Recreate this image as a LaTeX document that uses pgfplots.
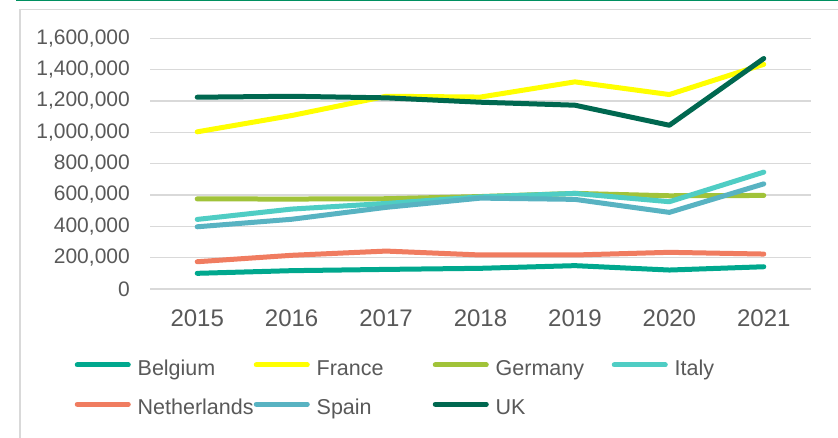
\documentclass[border=0pt]{standalone}
\usepackage{pgfplots}
\pgfplotsset{compat=1.18}
\usepackage{fontspec}
\setmainfont{Liberation Sans}
\definecolor{cBel}{RGB}{0,168,142}
\definecolor{cFra}{RGB}{255,255,0}
\definecolor{cGer}{RGB}{161,195,57}
\definecolor{cIta}{RGB}{79,205,196}
\definecolor{cNet}{RGB}{240,124,96}
\definecolor{cSpa}{RGB}{88,179,194}
\definecolor{cUK}{RGB}{0,104,80}
\definecolor{txtgray}{RGB}{89,89,89}
\definecolor{gridgray}{RGB}{217,217,217}
\definecolor{topgreen}{RGB}{0,144,96}
\newcommand{\legent}[1]{\makebox[118pt][l]{\hspace{4.4pt}\rule[-6pt]{0pt}{22pt}#1}}
\begin{document}
\begin{tikzpicture}[x=1pt,y=1pt]
\path[use as bounding box] (0,0) rectangle (838,438);
\fill[white] (0,0) rectangle (838,438);
\draw[gridgray, line width=1.5pt] (20,-5) -- (20,428.5) -- (845,428.5);
\draw[topgreen, line width=1.5pt] (16,437.3) -- (840,437.3);
\begin{axis}[
  at={(150pt,149pt)}, anchor=south west,
  scale only axis, width=661pt, height=250.7pt,
  xmin=2014.5, xmax=2021.5, ymin=0, ymax=1600000,
  xtick={2015,2016,2017,2018,2019,2020,2021},
  xticklabels={2015,2016,2017,2018,2019,2020,2021},
  ytick={0,200000,400000,600000,800000,1000000,1200000,1400000,1600000},
  yticklabels={0,{200,000},{400,000},{600,000},{800,000},{1,000,000},{1,200,000},{1,400,000},{1,600,000}},
  scaled y ticks=false, scaled x ticks=false,
  axis line style={draw=none},
  major tick length=0pt,
  ymajorgrids, grid style={gridgray, line width=1.5pt},
  clip=false,
  yticklabel style={font=\fontsize{21}{24}\selectfont, text=txtgray, inner sep=0pt, anchor=east, xshift=-20pt},
  xticklabel style={font=\fontsize{24}{28}\selectfont, text=txtgray, inner sep=0pt, anchor=base, yshift=-37.7pt},
  every axis plot/.append style={line width=5pt, line join=round, line cap=round, no markers},
  legend columns=4,
  legend cell align=left,
  legend style={draw=none, fill=none, inner sep=0pt, outer sep=0pt,
    at={(axis description cs:-0.1176,-0.282)}, anchor=north west,
    font=\fontsize{21.5}{24}\selectfont, text=txtgray,
    nodes={inner sep=0pt, outer sep=0pt},
    /tikz/every even column/.style={column sep=0pt},
    row sep=21.7pt},
  legend image code/.code={\path (0pt,0pt) (56pt,0pt);\draw[#1, line width=5pt, line cap=round] (2.5pt,0.35em) -- (53.5pt,0.35em);},
]
\addplot[cBel] coordinates {(2015,100000)(2016,117000)(2017,125000)(2018,132000)(2019,149000)(2020,121000)(2021,142000)};
\addlegendentry{\legent{Belgium}}
\addplot[cFra] coordinates {(2015,1003000)(2016,1107000)(2017,1230000)(2018,1225000)(2019,1322000)(2020,1241000)(2021,1434000)};
\addlegendentry{\legent{France}}
\addplot[cGer] coordinates {(2015,575000)(2016,574000)(2017,576000)(2018,590000)(2019,610000)(2020,595000)(2021,597000)};
\addlegendentry{\legent{Germany}}
\addplot[cIta] coordinates {(2015,444000)(2016,510000)(2017,546000)(2018,588000)(2019,610000)(2020,557000)(2021,746000)};
\addlegendentry{\legent{Italy}}
\addplot[cNet] coordinates {(2015,174000)(2016,215000)(2017,242000)(2018,217000)(2019,217000)(2020,234000)(2021,223000)};
\addlegendentry{\legent{Netherlands}}
\addplot[cSpa] coordinates {(2015,397000)(2016,445000)(2017,521000)(2018,580000)(2019,572000)(2020,489000)(2021,671000)};
\addlegendentry{\legent{Spain}}
\addplot[cUK] coordinates {(2015,1224000)(2016,1230000)(2017,1220000)(2018,1192000)(2019,1173000)(2020,1045000)(2021,1471000)};
\addlegendentry{\legent{UK}}
\end{axis}
\end{tikzpicture}
\end{document}
